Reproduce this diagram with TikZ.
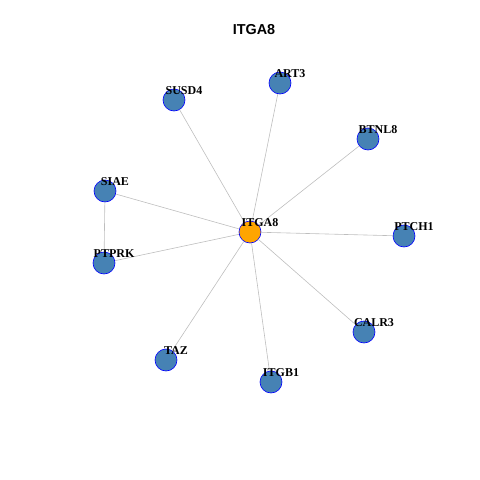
\documentclass[tikz,border=0pt]{standalone}
\usepackage{fontspec}
\setmainfont{Liberation Serif}
\newfontfamily\titlefont{Liberation Sans}
\definecolor{steel}{RGB}{70,130,180}
\definecolor{edgegray}{RGB}{190,190,190}
\definecolor{hub}{RGB}{255,165,0}
\begin{document}
\begin{tikzpicture}[x=1pt,y=-1pt,
  vtx/.style={circle,draw=blue,line width=0.6pt,fill=steel,minimum size=22pt,inner sep=0pt},
  hubv/.style={vtx,fill=hub},
  lbl/.style={font=\fontsize{12}{12}\selectfont\bfseries,inner sep=0pt},
  edge/.style={draw=edgegray,line width=0.6pt}]
\useasboundingbox (0,0) rectangle (480,480);
\node[font=\titlefont\fontsize{14.4}{14.4}\selectfont\bfseries] (title) at (254,30) {ITGA8};
\node[hubv] (ITGA8) at (250,232) {};
\node[vtx] (ART3) at (280,83) {};
\node[vtx] (SUSD4) at (174,100) {};
\node[vtx] (BTNL8) at (368,139) {};
\node[vtx] (SIAE) at (105,191) {};
\node[vtx] (PTCH1) at (404,236) {};
\node[vtx] (PTPRK) at (104,263) {};
\node[vtx] (CALR3) at (364,332) {};
\node[vtx] (TAZ) at (166,360) {};
\node[vtx] (ITGB1) at (271,382) {};
\begin{scope}[on background layer/.style={}]
\end{scope}
\foreach \n in {ART3,SUSD4,BTNL8,SIAE,PTCH1,PTPRK,CALR3,TAZ,ITGB1}{
  \draw[edge] (ITGA8) -- (\n);
}
\draw[edge] (SIAE) -- (PTPRK);
\foreach \n in {ITGA8,ART3,SUSD4,BTNL8,SIAE,PTCH1,PTPRK,CALR3,TAZ,ITGB1}{
  \node[lbl] (l\n) at ([shift={(10,-9)}]\n.center) {\n};
}
\end{tikzpicture}
\end{document}
